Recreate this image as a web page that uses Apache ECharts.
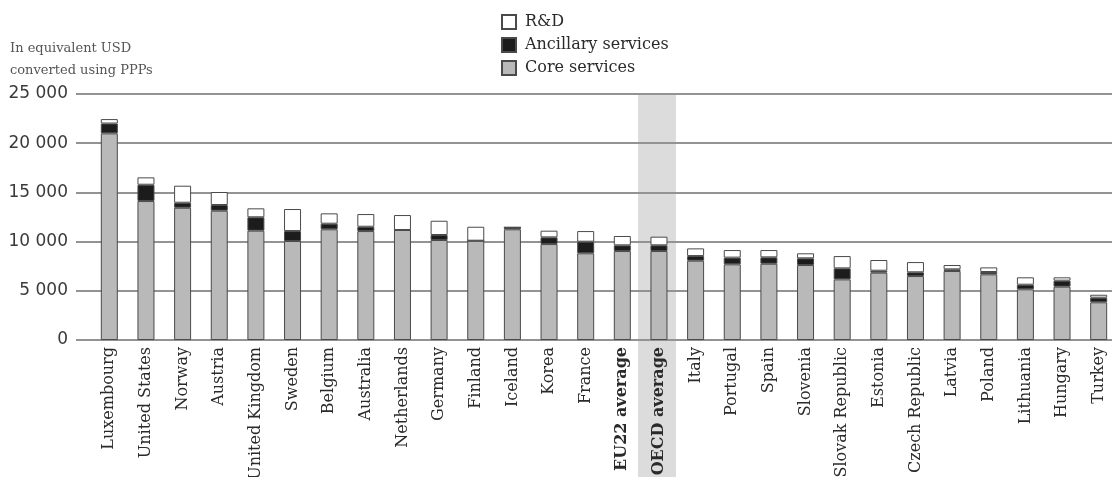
<!DOCTYPE html>
<html>
<head>
<meta charset="utf-8">
<script src="https://cdn.jsdelivr.net/npm/echarts@6/dist/echarts.min.js"></script>
<style>
html,body{margin:0;padding:0;background:#fff;}
#main{width:1112px;height:477px;}
</style>
</head>
<body>
<div id="main"></div>
<script>
const categories = ['Luxembourg','United States','Norway','Austria','United Kingdom','Sweden','Belgium','Australia','Netherlands','Germany','Finland','Iceland','Korea','France','EU22 average','OECD average','Italy','Portugal','Spain','Slovenia','Slovak Republic','Estonia','Czech Republic','Latvia','Poland','Lithuania','Hungary','Turkey'];
const coreServices = [21000,14120,13440,13140,11110,10060,11250,11070,11180,10160,10090,11250,9750,8810,9040,9040,8060,7690,7750,7620,6160,6840,6500,7010,6670,5150,5420,3830];
const ancillaryServices = [1000,1660,510,580,1360,1010,570,440,0,510,0,200,680,1180,580,580,470,680,650,680,1120,200,380,170,240,470,610,470];
const rAndD = [450,750,1730,1320,910,2240,1050,1290,1520,1450,1420,0,680,1080,950,880,780,770,740,510,1250,1090,1040,440,470,750,340,300];
const yTickValues = [0,5000,10000,15000,20000,25000];
const boldCategories = ['EU22 average','OECD average'];
const highlightCategory = 'OECD average';

const serif = 'DejaVu Serif';
const chart = echarts.init(document.getElementById('main'));
const barStyle = (fill) => ({color: fill, borderColor: '#4a4a4a', borderWidth: 1});

const option = {
  animation: false,
  backgroundColor: '#fff',
  title: {
    text: 'In equivalent USD\nconverted using PPPs',
    left: 5, top: 33,
    textStyle: {fontFamily: serif, fontSize: 13, fontWeight: 'normal', color: '#555', lineHeight: 22}
  },
  legend: {
    orient: 'vertical', left: 496, top: 9,
    itemWidth: 14, itemHeight: 14, itemGap: 7,
    icon: 'rect',
    data: ['R&D','Ancillary services','Core services'],
    textStyle: {fontFamily: serif, fontSize: 16, lineHeight: 16, color: '#2a2a2a', padding: [0,0,0,4]}
  },
  grid: [
    {left: 76, right: 0, top: 94, bottom: 137, outerBoundsMode: 'none', containLabel: false},
    {left: 91, width: 1026, top: 94, bottom: 137, outerBoundsMode: 'none', containLabel: false}
  ],
  xAxis: [
    {gridIndex: 0, type: 'value', show: false, min: 0, max: 1},
    {gridIndex: 1, type: 'category', data: categories,
     axisLine: {show: false}, axisTick: {show: false},
     axisLabel: {rotate: 90, interval: 0, margin: 7, fontFamily: serif, fontSize: 16, color: '#2a2a2a',
       formatter: v => boldCategories.includes(v) ? '{b|' + v + '}' : v,
       rich: {b: {fontFamily: serif, fontSize: 16, fontWeight: 'bold', color: '#2a2a2a'}}}
    }
  ],
  yAxis: [
    {gridIndex: 0, type: 'value', min: yTickValues[0], max: yTickValues[yTickValues.length-1], interval: 5000,
     axisLine: {show: false}, axisTick: {show: false},
     splitLine: {lineStyle: {color: '#939393', width: 2}},
     axisLabel: {margin: 8, fontFamily: 'DejaVu Sans', fontSize: 17, color: '#3a3a3a',
       formatter: v => String(v).replace(/\B(?=(\d{3})+(?!\d))/g, ' ')}
    },
    {gridIndex: 1, type: 'value', min: 0, max: 25000, show: false, splitLine: {show: false}}
  ],
  series: [
    {name: 'Core services', type: 'bar', stack: 's', xAxisIndex: 1, yAxisIndex: 1, barWidth: 17,
     data: coreServices, itemStyle: barStyle('#b9b9b9')},
    {name: 'Ancillary services', type: 'bar', stack: 's', xAxisIndex: 1, yAxisIndex: 1, barWidth: 17,
     data: ancillaryServices, itemStyle: barStyle('#1c1c1c')},
    {name: 'R&D', type: 'bar', stack: 's', xAxisIndex: 1, yAxisIndex: 1, barWidth: 17,
     data: rAndD, itemStyle: barStyle('#ffffff')}
  ]
};
chart.setOption(option);

const cx = chart.convertToPixel({xAxisIndex: 1}, highlightCategory);
const yTop = chart.convertToPixel({yAxisIndex: 1}, 25000);
chart.setOption({
  graphic: [{
    type: 'rect', z: -10, silent: true,
    shape: {x: cx - 21, y: yTop, width: 38, height: 477 - yTop},
    style: {fill: '#dcdcdc'}
  }]
});
</script>
</body>
</html>
